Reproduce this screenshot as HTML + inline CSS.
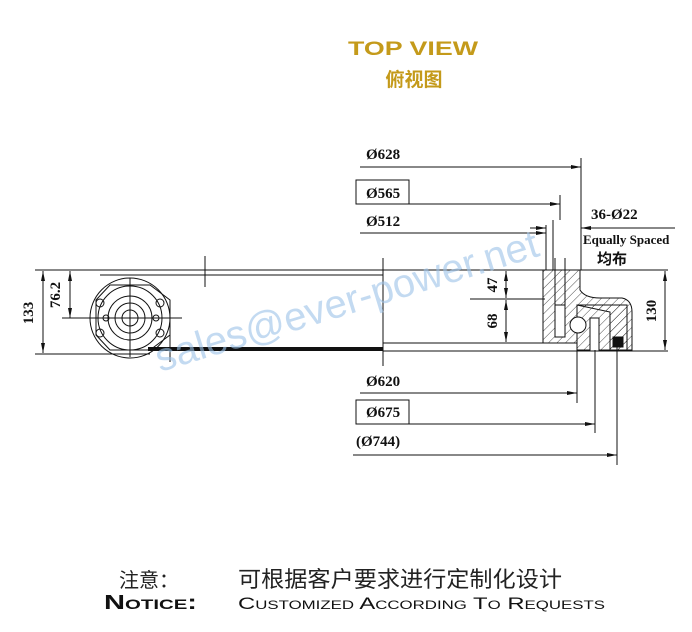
<!DOCTYPE html>
<html><head><meta charset="utf-8"><style>
body{margin:0;background:#fff;width:692px;height:632px;overflow:hidden}
svg{display:block}
text{font-family:"Liberation Serif","Noto Serif CJK SC",serif;fill:#111}
</style></head><body>
<svg width="692" height="632" viewBox="0 0 692 632">
<defs>
<pattern id="h" width="6" height="6" patternUnits="userSpaceOnUse" patternTransform="rotate(45)">
<line x1="0" y1="0" x2="0" y2="6" stroke="#222" stroke-width="0.8"/></pattern>
<marker id="a" markerWidth="10" markerHeight="6" refX="10" refY="3" orient="auto-start-reverse" markerUnits="userSpaceOnUse">
<path d="M0,1 L10,3 L0,5 Z" fill="#111"/></marker>
</defs>
<!-- titles -->
<text x="348" y="55" textLength="130" lengthAdjust="spacingAndGlyphs" style="font-family:'Liberation Sans',sans-serif;font-weight:bold;font-size:19px;fill:#c49a1a">TOP VIEW</text>
<text x="414" y="86" text-anchor="middle" style="font-family:'Noto Sans CJK SC',sans-serif;font-weight:bold;font-size:19px;fill:#c49a1a">俯视图</text>

<g stroke="#111" stroke-width="1" fill="none">
<line x1="35" y1="270" x2="668" y2="270"/>
<line x1="35" y1="354" x2="150" y2="354"/>
<line x1="383" y1="351" x2="668" y2="351"/>
<line x1="383" y1="343" x2="545" y2="343"/>
<line x1="470" y1="299" x2="545" y2="299"/>
<line x1="148" y1="349" x2="383" y2="349" stroke-width="4"/>
<line x1="383" y1="258" x2="383" y2="366"/>
<line x1="205" y1="256" x2="205" y2="287"/>
<line x1="100" y1="275" x2="383" y2="275"/>
<line x1="43" y1="271" x2="43" y2="353" marker-start="url(#a)" marker-end="url(#a)"/>
<line x1="70" y1="271" x2="70" y2="318" marker-start="url(#a)" marker-end="url(#a)"/>
<circle cx="130" cy="318" r="40"/>
<circle cx="130" cy="318" r="32"/>
<circle cx="130" cy="318" r="22"/>
<circle cx="130" cy="318" r="15"/>
<circle cx="130" cy="318" r="8"/>
<path d="M96,300 L110,285 L150,285 L170,300 L170,335 L150,350 L110,350 L96,335 Z"/>
<circle cx="100" cy="303" r="4"/><circle cx="100" cy="333" r="4"/>
<circle cx="160" cy="303" r="4"/><circle cx="160" cy="333" r="4"/>
<circle cx="106" cy="318" r="3"/><circle cx="156" cy="318" r="3"/>
<line x1="62" y1="318" x2="182" y2="318"/>
<line x1="130" y1="278" x2="130" y2="357"/>
<line x1="170" y1="330" x2="170" y2="362"/>
<line x1="506" y1="271" x2="506" y2="298" marker-start="url(#a)" marker-end="url(#a)"/>
<line x1="506" y1="300" x2="506" y2="342" marker-start="url(#a)" marker-end="url(#a)"/>
<line x1="665" y1="271" x2="665" y2="350" marker-start="url(#a)" marker-end="url(#a)"/>
<path d="M543,270 L580,270 L580,290 Q585,298 600,298 L622,298 Q632,300 632,312 L632,350 L610,350 L610,312 L577,305 L577,343 L543,343 Z" fill="url(#h)"/>
<rect x="577" y="305" width="50" height="45" fill="url(#h)"/>
<rect x="555" y="305" width="10" height="32" fill="#fff"/>
<circle cx="578" cy="325" r="8" fill="#fff"/>
<rect x="590" y="318" width="9" height="33" fill="#fff"/>
<rect x="613" y="337" width="10" height="10" fill="#111"/>
<line x1="555" y1="258" x2="555" y2="337"/>
<line x1="565" y1="258" x2="565" y2="337"/>
<line x1="581" y1="158" x2="581" y2="270"/>
<line x1="560" y1="195" x2="560" y2="220"/>
<line x1="553" y1="220" x2="553" y2="270"/>
<line x1="546" y1="225" x2="546" y2="270"/>
<line x1="577" y1="343" x2="577" y2="403"/>
<line x1="595" y1="350" x2="595" y2="433"/>
<line x1="617" y1="345" x2="617" y2="465"/>
<line x1="360" y1="167" x2="581" y2="167" marker-end="url(#a)"/>
<line x1="360" y1="204" x2="560" y2="204" marker-end="url(#a)"/>
<line x1="360" y1="233" x2="546" y2="233" marker-end="url(#a)"/>
<line x1="530" y1="228" x2="546" y2="228" marker-end="url(#a)"/>
<line x1="600" y1="228" x2="581" y2="228" marker-end="url(#a)"/>
<line x1="581" y1="228" x2="675" y2="228"/>
<line x1="360" y1="393" x2="577" y2="393" marker-end="url(#a)"/>
<line x1="360" y1="424" x2="595" y2="424" marker-end="url(#a)"/>
<line x1="353" y1="455" x2="617" y2="455" marker-end="url(#a)"/>
<rect x="356" y="180" width="53" height="24"/>
<rect x="356" y="400" width="53" height="24"/>
</g>
<g font-weight="bold" font-size="15">
<text x="366" y="159">Ø628</text>
<text x="366" y="198">Ø565</text>
<text x="366" y="226">Ø512</text>
<text x="366" y="386">Ø620</text>
<text x="366" y="417">Ø675</text>
<text x="356" y="446">(Ø744)</text>
<text x="591" y="219">36-Ø22</text>
<text x="583" y="244" font-size="13">Equally Spaced</text>
<text x="597" y="264" font-size="15" style="font-family:'Noto Sans CJK SC',sans-serif">均布</text>
<text transform="translate(33,313) rotate(-90)" text-anchor="middle">133</text>
<text transform="translate(60,295) rotate(-90)" text-anchor="middle">76.2</text>
<text transform="translate(497,285) rotate(-90)" text-anchor="middle">47</text>
<text transform="translate(497,321) rotate(-90)" text-anchor="middle">68</text>
<text transform="translate(656,311) rotate(-90)" text-anchor="middle">130</text>
</g>
<text x="160" y="372" transform="rotate(-17 160 372)" style="font-family:'Liberation Sans',sans-serif;font-size:40px;fill:#9cc3e8;opacity:0.6">sales@ever-power.net</text>
<text x="119" y="587" style="font-family:'Noto Sans CJK SC',sans-serif;font-size:20px;fill:#222">注意：</text>
<text x="238" y="587" textLength="324" lengthAdjust="spacingAndGlyphs" style="font-family:'Noto Sans CJK SC',sans-serif;font-size:22px;fill:#222">可根据客户要求进行定制化设计</text>
<text x="104" y="609" textLength="93" lengthAdjust="spacingAndGlyphs" style="font-family:'Liberation Sans',sans-serif;font-weight:bold;font-size:20px;font-variant:small-caps;fill:#111">Notice:</text>
<text x="238" y="609" textLength="367" lengthAdjust="spacingAndGlyphs" style="font-family:'Liberation Sans',sans-serif;font-size:17px;font-variant:small-caps;fill:#111">Customized According To Requests</text>
</svg>
</body></html>
